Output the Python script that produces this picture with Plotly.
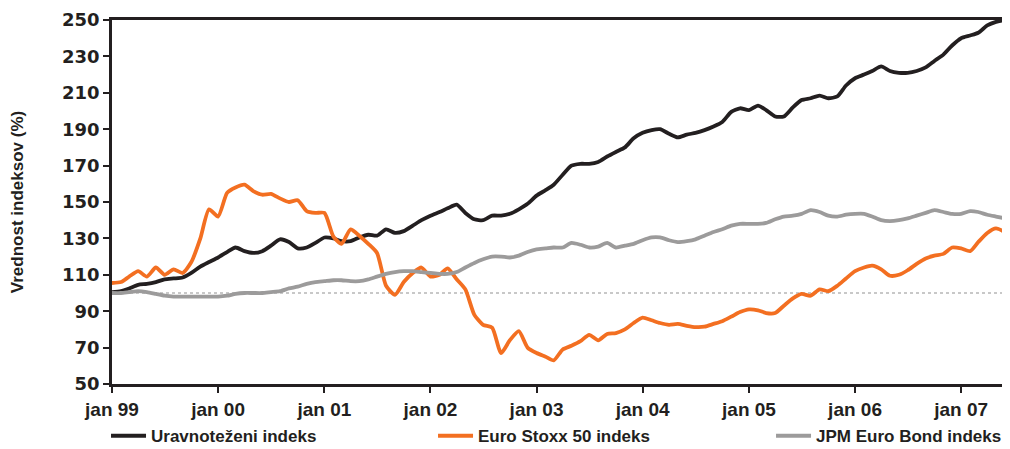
import plotly.graph_objects as go
import pandas as pd

START = "1999-01-01"
N_MONTHS = 102
dates = pd.date_range(START, periods=N_MONTHS, freq="MS")

uravnotezeni = [
    100.5, 101, 102.5, 104.5, 105, 106, 107.5, 108, 108.5, 111, 114.5, 117,
    119.5, 122.5, 125, 123, 122, 123, 126, 129.5, 128, 124.5, 125, 127.5,
    130.5, 130, 128.5, 128.5, 130.5, 132, 131.5, 135, 133, 134, 137, 140,
    142.5, 144.5, 146.5, 148.5, 144, 140.5, 140, 142.5, 142.5, 143.5, 146, 149,
    153.5, 156.5, 159.5, 165, 170, 171, 171, 172, 175, 177.5, 180, 185,
    188, 189.5, 190, 187.5, 185.5, 187, 188, 189.5, 191.5, 194, 199.5, 201.5,
    200.5, 203, 200.5, 197, 197, 202, 206, 207, 208.5, 207, 208, 214,
    218, 220, 222, 224.5, 222, 221, 221, 222, 224, 227.5, 231, 236,
    240, 241.5, 243, 247, 249, 250,
]

euro_stoxx = [
    105.5, 106, 109, 112, 109, 114, 110, 113, 111, 117, 130, 146,
    142, 155, 158, 159.5, 156, 154, 154.5, 152, 150, 151, 145, 144,
    144, 131, 127, 135, 131.5, 127, 122, 104, 99, 106, 111, 114,
    109, 110, 113.5, 107.5, 102, 88, 82.5, 81, 67, 74, 79, 70,
    67, 65, 63, 69, 71, 73.5, 77, 74, 77.5, 78, 80, 83.5,
    86.5, 85, 83.5, 82.5, 83, 82, 81.3, 81.5, 83, 84.5, 87, 89.5,
    91, 90.5, 89, 89, 93, 97, 99.5, 98.5, 102, 101, 104, 108,
    112, 114, 115, 113, 109.5, 110, 112.5, 116, 119, 120.5, 121.5, 125,
    124.5, 123, 128, 133, 135.5, 133.5,
]

jpm_bond = [
    100, 100, 100.5, 101, 100.5, 99.5, 98.5, 98, 98, 98, 98, 98,
    98, 98.5, 99.5, 100, 100, 100, 100.5, 101, 102.5, 103.5, 105, 106,
    106.5, 107, 107, 106.5, 106.5, 107.5, 109, 110.5, 111.5, 112, 112, 111.5,
    111, 110.5, 110.5, 111.5, 114, 116.5, 118.5, 120, 120, 119.5, 120.5, 122.5,
    124, 124.5, 125, 125, 127.5, 126.5, 125, 125.5, 127.5, 125, 126, 127,
    129, 130.5, 130.5, 129, 128, 128.5, 129.5, 131.5, 133.5, 135, 137, 138,
    138, 138, 138.5, 140.5, 142, 142.5, 143.5, 145.5, 144.5, 142.5, 142, 143,
    143.5, 143.5, 142, 140, 139.5, 140, 141, 142.5, 144, 145.5, 144.5, 143.5,
    143.5, 145, 144.5, 143, 142, 141,
]

series_names = ["Uravnoteženi indeks", "Euro Stoxx 50 indeks", "JPM Euro Bond indeks"]
series_colors = ["#231f20", "#f36f21", "#9c9b9b"]
legend_ids = ["legend", "legend2", "legend3"]
legend_x = [-0.0067, 0.3595, 0.738]

x_tick_dates = ["1999-01-01", "2000-01-01", "2001-01-01", "2002-01-01", "2003-01-01",
                "2004-01-01", "2005-01-01", "2006-01-01", "2007-01-01"]
x_tick_labels = ["jan 99", "jan 00", "jan 01", "jan 02", "jan 03",
                 "jan 04", "jan 05", "jan 06", "jan 07"]
y_ticks = [50, 70, 90, 110, 130, 150, 170, 190, 210, 230, 250]
reference_level = 100

FONT = "Liberation Sans, Arial, sans-serif"
FONT_WIDE = "DejaVu Sans, sans-serif"
AXIS_COLOR = "#231f20"

fig = go.Figure()
for name, vals, col, lg in zip(series_names, [uravnotezeni, euro_stoxx, jpm_bond],
                               series_colors, legend_ids):
    fig.add_trace(go.Scatter(
        x=dates, y=vals, name=name, mode="lines", legend=lg,
        line=dict(color=col, width=3.8, shape="spline", smoothing=0.6),
    ))

fig.add_hline(y=reference_level, line=dict(color="#c8c8c8", width=2, dash="dot"), layer="below")

legend_common = dict(
    orientation="h", xanchor="left", y=-0.094, yanchor="top",
    font=dict(family=FONT, size=17, weight="bold", color=AXIS_COLOR),
    itemwidth=35, bgcolor="rgba(0,0,0,0)", borderwidth=0,
)
legend_layout = {lg: dict(x=lx, **legend_common) for lg, lx in zip(legend_ids, legend_x)}

fig.update_layout(
    width=1002, height=441,
    margin=dict(l=104, r=5, t=12, b=65, autoexpand=False),
    paper_bgcolor="white", plot_bgcolor="white",
    font=dict(family=FONT, color=AXIS_COLOR),
    showlegend=True,
    **legend_layout,
)

fig.update_xaxes(
    type="date", range=[dates[0], dates[-1]],
    tickvals=x_tick_dates, ticktext=x_tick_labels,
    ticks="outside", ticklen=6, tickwidth=2, tickcolor=AXIS_COLOR,
    showline=True, linewidth=2.5, linecolor=AXIS_COLOR, mirror=True,
    showgrid=False, zeroline=False,
    tickfont=dict(family=FONT, size=19, weight="bold", color=AXIS_COLOR),
)
fig.update_yaxes(
    range=[50, 250], tickvals=y_ticks,
    ticks="outside", ticklen=6, tickwidth=2, tickcolor=AXIS_COLOR,
    showline=True, linewidth=2.5, linecolor=AXIS_COLOR, mirror=True,
    showgrid=False, zeroline=False,
    tickfont=dict(family=FONT_WIDE, size=18, weight="bold", color=AXIS_COLOR),
    title=dict(text="Vrednost indeksov (%)", standoff=35,
               font=dict(family=FONT, size=17, weight="bold", color=AXIS_COLOR)),
)

fig.write_html("out.html")
